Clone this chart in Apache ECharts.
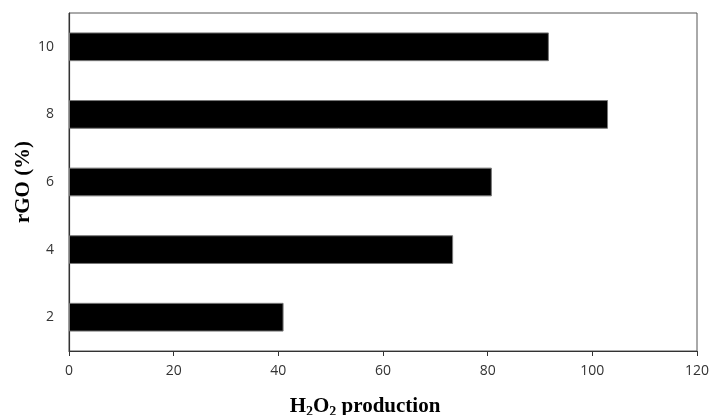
<!DOCTYPE html>
<html><head><meta charset="utf-8">
<script src="https://cdn.jsdelivr.net/npm/echarts@6/dist/echarts.min.js"></script>
<style>html,body{margin:0;padding:0;background:#fff}#c{width:710px;height:415px}</style>
</head><body><div id="c"></div>
<script>
const categories = ['2', '4', '6', '8', '10'];
const values = [41, 73.4, 80.8, 103, 91.7];
const xTicks = [0, 20, 40, 60, 80, 100, 120];

const chart = echarts.init(document.getElementById('c'));
const labelFont = '"Open Sans", "Noto Sans", sans-serif';
chart.setOption({
  animation: false,
  grid: { left: 69, right: 13, top: 13, bottom: 64, show: true, borderColor: '#555', borderWidth: 1, containLabel: false, outerBoundsMode: 'none' },
  xAxis: {
    type: 'value', min: xTicks[0], max: xTicks[xTicks.length - 1], interval: 20,
    axisLine: { show: true, lineStyle: { color: '#333', width: 1.2 } },
    axisTick: { show: true, length: 5, lineStyle: { color: '#333' } },
    splitLine: { show: false },
    axisLabel: { color: '#333', fontSize: 14, fontFamily: labelFont, margin: 13 },
    name: '{n|H}{s|2}{n|O}{s|2}{n| production}',
    nameLocation: 'middle', nameGap: 44,
    nameTextStyle: {
      padding: [0, 36, 0, 0],
      rich: {
        n: { fontFamily: '"Liberation Serif", serif', fontWeight: 'bold', fontSize: 21, color: '#000' },
        s: { fontFamily: '"Liberation Serif", serif', fontWeight: 'bold', fontSize: 14, color: '#000', verticalAlign: 'bottom', padding: [10, 0, 0, 0] }
      }
    }
  },
  yAxis: {
    type: 'category', data: categories,
    axisLine: { show: true, lineStyle: { color: '#333', width: 1.2 } },
    axisTick: { show: false },
    axisLabel: { color: '#333', fontSize: 14, fontFamily: labelFont, margin: 15 },
    name: 'rGO (%)', nameLocation: 'middle', nameGap: 35, nameRotate: 90, nameMoveOverlap: false,
    nameTextStyle: { fontFamily: '"Liberation Serif", serif', fontWeight: 'bold', fontSize: 21, color: '#000' }
  },
  series: [{
    type: 'bar', data: values, barWidth: '42.5%',
    itemStyle: { color: '#000', borderColor: '#777', borderWidth: 1 }
  }]
});
</script></body></html>
